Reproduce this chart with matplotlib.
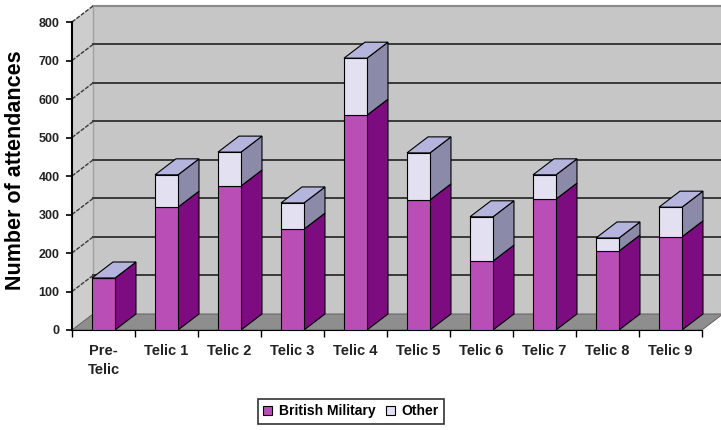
import numpy as np
import matplotlib
matplotlib.use('Agg')
import matplotlib.pyplot as plt
from matplotlib.patches import Polygon

plt.rcParams['font.family'] = ['Liberation Sans', 'DejaVu Sans']

categories = ['Pre-\nTelic', 'Telic 1', 'Telic 2', 'Telic 3', 'Telic 4',
              'Telic 5', 'Telic 6', 'Telic 7', 'Telic 8', 'Telic 9']
military = [135, 319, 374, 262, 558, 338, 179, 340, 205, 242]
other = [0, 84, 88, 68, 148, 122, 115, 63, 34, 77]
yticks = [0, 100, 200, 300, 400, 500, 600, 700, 800]

# fake 3d depth, in data units
DX = 0.333
DY = 41.6
W = 0.365

pink = '#b94fb6'
pink_side = '#7c0c80'
lav = '#e3e1f1'
lav_side = '#8b8aa8'
lav_top = '#b5b4dc'
wall = '#c6c6c6'
side_wall = '#cdcdcd'
floor = '#8e8e8e'
grid = '#3a3a3a'


def poly(ax, pts, color, z, ec='black', lw=0.8):
    ax.add_patch(Polygon(pts, closed=True, facecolor=color, edgecolor=ec,
                         linewidth=lw, zorder=z, clip_on=False))


fig = plt.figure(figsize=(7.21, 4.30), dpi=100)
ax = fig.add_axes([72/721, 100/430, 630/721, 308/430])
n = len(categories)
x0, x1 = -0.5, n - 0.5
ax.set_xlim(x0, x1)
ax.set_ylim(0, 800)
ax.patch.set_visible(False)

# walls and floor
poly(ax, [(x0+DX, DY), (x1+DX, DY), (x1+DX, 800+DY), (x0+DX, 800+DY)],
     wall, 0, ec='none')
poly(ax, [(x0, 0), (x0, 800), (x0+DX, 800+DY), (x0+DX, DY)],
     side_wall, 0, ec='none')
poly(ax, [(x0, 0), (x1, 0), (x1+DX, DY), (x0+DX, DY)], floor, 0.5,
     ec='#555555', lw=0.6)
ax.plot([x0+DX, x1+DX], [800+DY, 800+DY], color='#8a8a8a', lw=1.5,
        zorder=1, clip_on=False)
ax.plot([x0+DX, x0+DX], [DY, 800+DY], color='#a0a0a0', lw=1,
        zorder=1, clip_on=False)

for v in yticks[1:-1]:
    ax.plot([x0+DX, x1+DX], [v+DY, v+DY], color=grid, lw=1.4, zorder=1,
            clip_on=False)
for v in yticks[1:]:
    ax.plot([x0, x0+DX], [v, v+DY], color=grid, lw=1.0, ls=(0, (3, 1)),
            zorder=1, clip_on=False)

xs = np.arange(n)
b1 = ax.bar(xs, military, width=W, color=pink, edgecolor='black',
            linewidth=0.8, zorder=3, label='British Military')
b2 = ax.bar(xs, other, bottom=military, width=W, color=lav,
            edgecolor='black', linewidth=0.8, zorder=3, label='Other')

for x, m, o in zip(xs, military, other):
    r = x + W/2
    l = x - W/2
    t = m + o
    poly(ax, [(r, 0), (r+DX, DY), (r+DX, m+DY), (r, m)], pink_side, 2.9)
    if o > 0:
        poly(ax, [(r, m), (r+DX, m+DY), (r+DX, t+DY), (r, t)], lav_side, 2.9)
    poly(ax, [(l, t), (r, t), (r+DX, t+DY), (l+DX, t+DY)], lav_top, 2.9)

for s in ['top', 'right']:
    ax.spines[s].set_visible(False)
ax.spines['left'].set_linewidth(1.5)
ax.spines['bottom'].set_linewidth(0.8)
ax.spines['left'].set_zorder(4)

ax.set_yticks(yticks)
ax.set_yticklabels([str(v) for v in yticks], fontsize=9, fontweight='bold',
                   color='#222222')
ax.tick_params(axis='y', length=4, width=1.2, pad=5)
ax.set_xticks(xs)
ax.set_xticklabels(categories, fontsize=10.5, fontweight='bold',
                   color='#222222', linespacing=1.5)
ax.set_xticks(np.arange(n + 1) - 0.5, minor=True)
ax.tick_params(axis='x', which='major', length=0, pad=10)
ax.tick_params(axis='x', which='minor', length=5, width=1)

fig.text(0.022, 0.605, 'Number of attendances', rotation=90, fontsize=15.5,
         fontweight='bold', ha='center', va='center')

leg = fig.legend(handles=[b1, b2], loc='center', bbox_to_anchor=(0.487, 0.044),
                 ncol=2, frameon=True, fancybox=False, edgecolor='black',
                 handlelength=0.6, handleheight=0.6, handletextpad=0.5,
                 columnspacing=0.8, borderpad=0.4,
                 prop={'weight': 'bold', 'size': 10})
leg.get_frame().set_linewidth(1.2)

fig.savefig('out.png', dpi=100, facecolor='white')
